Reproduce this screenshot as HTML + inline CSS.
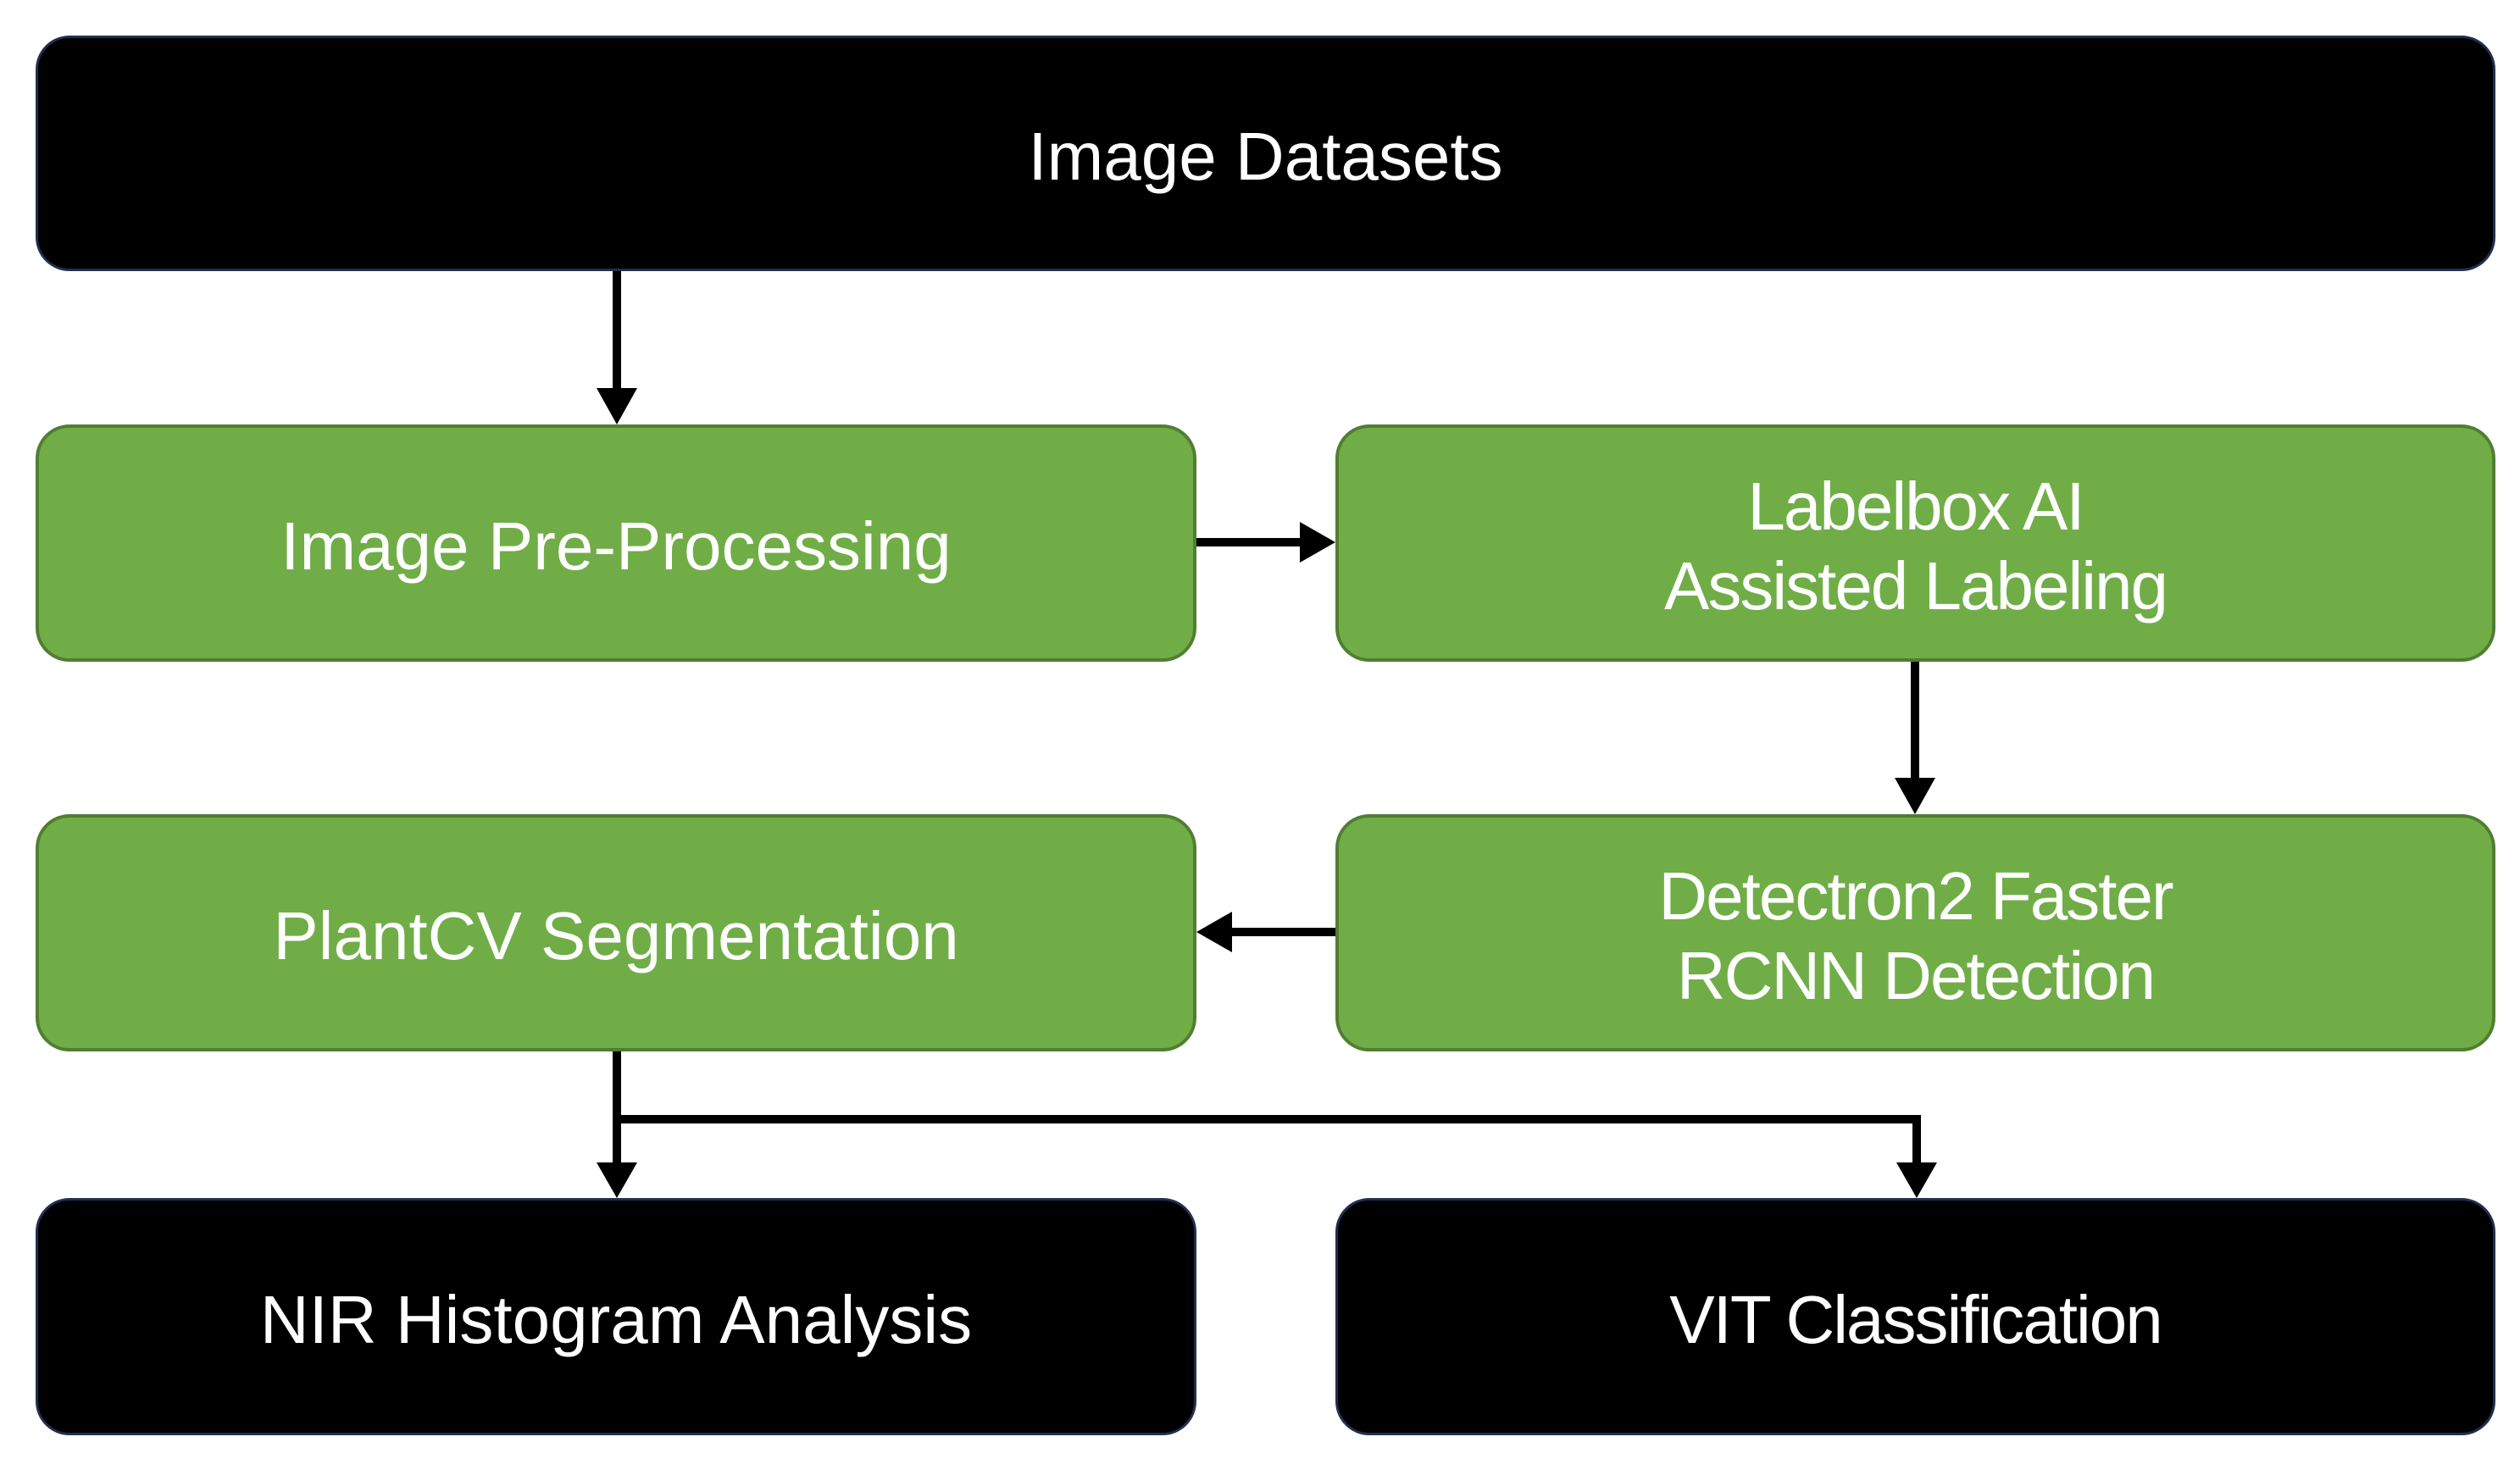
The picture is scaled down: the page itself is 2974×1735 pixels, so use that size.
<!DOCTYPE html>
<html><head><meta charset="utf-8"><style>
body{margin:0;background:#fff;width:2974px;height:1735px;overflow:hidden;position:relative;font-family:"Liberation Sans",Arial,sans-serif}
.b{position:absolute;box-sizing:border-box;border-radius:40px;display:flex;align-items:center;justify-content:center;text-align:center;color:#fff;font-size:80px;line-height:94px;padding-top:8px}
.k{background:#000;border:3px solid #1f2f4f}
.g{background:#70ad47;border:4px solid #507e32}
svg{position:absolute;left:0;top:0}
</style></head><body>
<div class="b k" style="left:42px;top:42px;width:2903px;height:278px">Image Datasets</div>
<div class="b g" style="left:42px;top:501px;width:1370px;height:280px">Image Pre-Processing</div>
<div class="b g" style="left:1576px;top:501px;width:1369px;height:280px;letter-spacing:-2px">Labelbox AI<br>Assisted Labeling</div>
<div class="b g" style="left:42px;top:961px;width:1370px;height:280px">PlantCV Segmentation</div>
<div class="b g" style="left:1576px;top:961px;width:1369px;height:280px;letter-spacing:-2px">Detectron2 Faster<br>RCNN Detection</div>
<div class="b k" style="left:42px;top:1414px;width:1370px;height:280px">NIR Histogram Analysis</div>
<div class="b k" style="left:1576px;top:1414px;width:1369px;height:280px;letter-spacing:-2px">VIT Classification</div>
<svg width="2974" height="1735">
<g stroke="#000" stroke-width="10" fill="none">
<line x1="728" y1="320" x2="728" y2="462"/>
<line x1="1412" y1="640" x2="1538" y2="640"/>
<line x1="2260" y1="781" x2="2260" y2="922"/>
<line x1="1576" y1="1100" x2="1450" y2="1100"/>
<line x1="728" y1="1241" x2="728" y2="1376"/>
<polyline points="728,1321 2262,1321 2262,1376"/>
</g>
<g fill="#000">
<polygon points="704,458 752,458 728,501"/>
<polygon points="1534,616 1534,664 1576,640"/>
<polygon points="2236,918 2284,918 2260,961"/>
<polygon points="1454,1076 1454,1124 1412,1100"/>
<polygon points="704,1372 752,1372 728,1414"/>
<polygon points="2238,1372 2286,1372 2262,1414"/>
</g>
</svg>
</body></html>
